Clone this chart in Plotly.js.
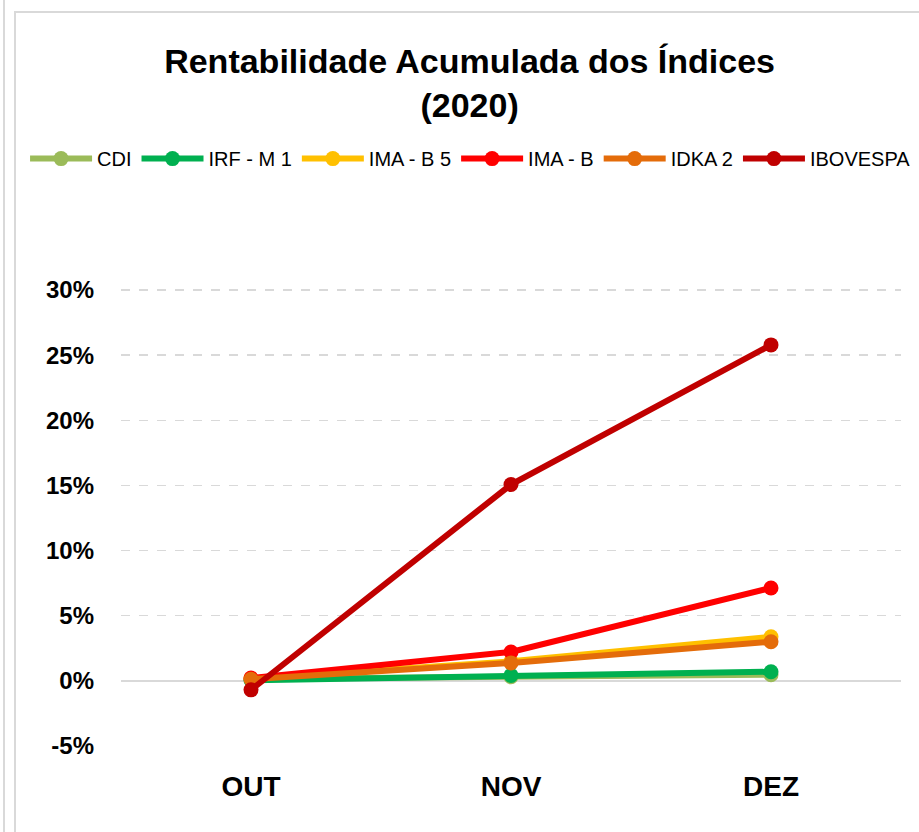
<!DOCTYPE html>
<html>
<head>
<meta charset="utf-8">
<script src="https://cdn.plot.ly/plotly-3.0.1.min.js"></script>
<style>
  html, body { margin: 0; padding: 0; background: #fff; }
  #wrap { position: relative; width: 919px; height: 832px; overflow: hidden; }
  #chart { position: absolute; left: 0; top: 0; width: 919px; height: 832px; }
  .ln { position: absolute; background: #d9d9d9; z-index: 5; }
</style>
</head>
<body>
<div id="wrap">
  <div id="chart"></div>
  <div class="ln" style="left:3px; top:0; width:2px; height:832px;"></div>
  <div class="ln" style="left:14px; top:11px; width:2px; height:821px;"></div>
  <div class="ln" style="left:14px; top:11px; width:905px; height:2px;"></div>
</div>
<script>
// Data (cumulative return, %)
const months = ["OUT", "NOV", "DEZ"];
const seriesNames = ["CDI", "IRF - M 1", "IMA - B 5", "IMA - B", "IDKA 2", "IBOVESPA"];
const cdi      = [0.16, 0.31, 0.47];
const irfm1    = [0.05, 0.42, 0.70];
const imab5    = [0.18, 1.50, 3.38];
const imab     = [0.22, 2.22, 7.13];
const idka2    = [0.12, 1.38, 3.00];
const ibovespa = [-0.69, 15.07, 25.79];
const seriesColors = ["#9BBB59", "#00B050", "#FFC000", "#FF0000", "#E46C0A", "#C00000"];

const allValues = [cdi, irfm1, imab5, imab, idka2, ibovespa];
const traces = allValues.map((vals, i) => ({
  type: "scatter",
  mode: "lines+markers",
  name: seriesNames[i],
  x: months,
  y: vals,
  line: { color: seriesColors[i], width: 6 },
  marker: { color: seriesColors[i], size: 15 },
  cliponaxis: false
}));

const layout = {
  width: 919,
  height: 832,
  paper_bgcolor: "#ffffff",
  plot_bgcolor: "#ffffff",
  margin: { l: 121, r: 18, t: 289, b: 86 },
  title: {
    text: "Rentabilidade Acumulada dos Índices<br>(2020)",
    font: { family: "Liberation Sans, Arial, sans-serif", size: 34, color: "#000000", weight: "bold" },
    x: 0.511, xanchor: "center",
    xref: "container",
    y: 0.912, yanchor: "top", yref: "container"
  },
  showlegend: true,
  legend: {
    orientation: "h",
    xref: "paper", yref: "paper",
    x: -0.123, xanchor: "left",
    y: 1.328, yanchor: "top",
    font: { family: "Liberation Sans, Arial, sans-serif", size: 20, color: "#000000" },
    itemwidth: 62,
    tracegroupgap: 0,
    bgcolor: "rgba(0,0,0,0)"
  },
  xaxis: {
    type: "category",
    range: [-0.5, 2.5],
    showgrid: false,
    zeroline: false,
    showline: false,
    ticks: "",
    ticklabelstandoff: 21,
    tickfont: { family: "Liberation Sans, Arial, sans-serif", size: 28, color: "#000000", weight: "bold" }
  },
  yaxis: {
    range: [-5, 30.08],
    tickvals: [-5, 0, 5, 10, 15, 20, 25, 30],
    ticktext: ["-5%", "0%", "5%", "10%", "15%", "20%", "25%", "30%"],
    showgrid: true,
    gridcolor: "#d9d9d9",
    gridwidth: 1.5,
    griddash: "dash",
    zeroline: true,
    zerolinecolor: "#d9d9d9",
    zerolinewidth: 2,
    showline: false,
    ticks: "",
    ticklabelstandoff: 26,
    tickfont: { family: "Liberation Sans, Arial, sans-serif", size: 24, color: "#000000", weight: "bold" }
  }
};

Plotly.newPlot("chart", traces, layout, { displayModeBar: false, staticPlot: true });
</script>
</body>
</html>
